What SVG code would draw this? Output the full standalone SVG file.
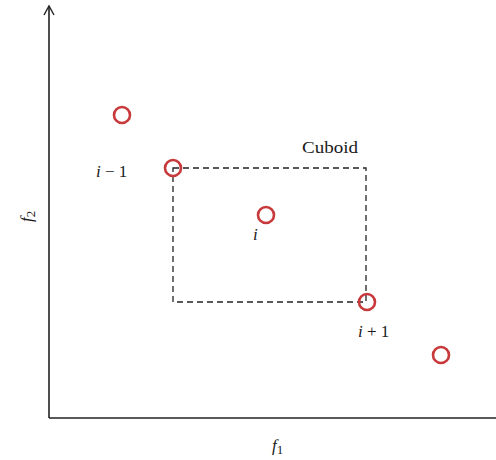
<svg xmlns="http://www.w3.org/2000/svg" width="496" height="460" viewBox="0 0 496 460">
<style>
.pt{fill:none;stroke:#c8393b;stroke-width:2.6}
.ax{stroke:#222;stroke-width:1.6;fill:none}
.t{font-family:"Liberation Serif",serif;font-size:17px;fill:#1a1a1a}
.it{font-style:italic}
</style>
<defs>
<marker id="ah" viewBox="0 0 12 12" refX="10" refY="6" markerWidth="12" markerHeight="12" markerUnits="userSpaceOnUse" orient="auto">
<path d="M1,1 L10,6 L1,11" fill="none" stroke="#222" stroke-width="1.4"/>
</marker>
</defs>
<rect width="496" height="460" fill="#fff"/>
<g id="connectors">
<path class="ax" d="M49,418 L49,6" marker-end="url(#ah)"/>
<path class="ax" d="M49,418 L500,418"/>
<rect x="173" y="168" width="193" height="134" fill="none" stroke="#222" stroke-width="1.3" stroke-dasharray="6,4"/>
</g>
<g id="n1"><circle class="pt" cx="122" cy="115" r="8"/></g>
<g id="n2"><circle class="pt" cx="173" cy="168" r="8"/><text class="t" x="96" y="177"><tspan class="it">i</tspan> − 1</text></g>
<g id="n3"><circle class="pt" cx="266" cy="215" r="8"/><text class="t it" x="253" y="240">i</text></g>
<g id="n4"><circle class="pt" cx="367" cy="302" r="8"/><text class="t" x="358" y="337"><tspan class="it">i</tspan> + 1</text></g>
<g id="n5"><circle class="pt" cx="441" cy="355" r="8"/></g>
<g id="cuboid"><text class="t" x="302" y="153" textLength="56" lengthAdjust="spacingAndGlyphs">Cuboid</text></g>
<g id="labels">
<text class="t" font-size="19" x="272" y="451"><tspan class="it">f</tspan><tspan font-size="13" dy="3">1</tspan></text>
<text class="t" font-size="19" transform="translate(32,222) rotate(-90)"><tspan class="it">f</tspan><tspan font-size="13" dy="3">2</tspan></text>
</g>
</svg>
